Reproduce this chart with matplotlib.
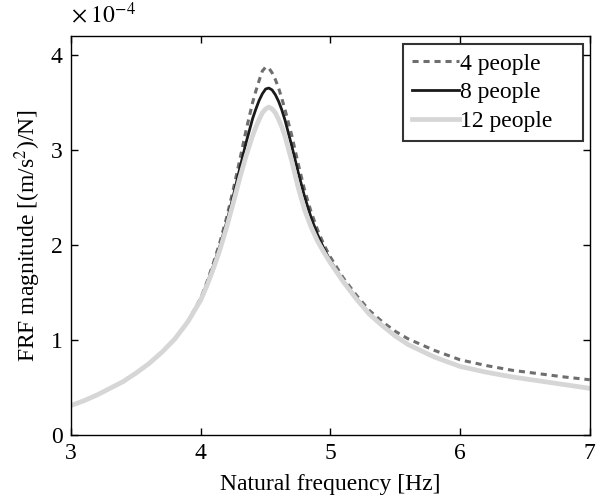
import numpy as np
import matplotlib
matplotlib.use('Agg')
import matplotlib.pyplot as plt

plt.rcParams['font.family'] = ['Liberation Serif', 'DejaVu Serif']
plt.rcParams['mathtext.fontset'] = 'stix'

# 频率点 [Hz]
freq = [3.0, 3.1, 3.2, 3.3, 3.4, 3.5, 3.6, 3.7, 3.8, 3.9,
        4.0, 4.05, 4.1, 4.15, 4.2, 4.25, 4.3, 4.35, 4.4,
        4.425, 4.45, 4.475, 4.5, 4.525, 4.55, 4.575, 4.6, 4.625, 4.65,
        4.7, 4.75, 4.8, 4.85, 4.9, 4.95, 5.0,
        5.1, 5.2, 5.3, 5.4, 5.5, 5.6,
        5.8, 6.0, 6.2, 6.4, 6.6, 6.8, 7.0]

# FRF 幅值 (x 1e-4)
frf_4 = [0.31, 0.36, 0.42, 0.49, 0.56, 0.65, 0.75, 0.87, 1.01, 1.19,
         1.44, 1.62, 1.82, 2.04, 2.29, 2.58, 2.89, 3.21, 3.50,
         3.62, 3.73, 3.83, 3.87, 3.86, 3.81, 3.74, 3.65, 3.54, 3.42,
         3.16, 2.86, 2.58, 2.35, 2.16, 2.00, 1.87,
         1.65, 1.47, 1.31, 1.19, 1.09, 1.01,
         0.89, 0.79, 0.73, 0.68, 0.645, 0.61, 0.58]

frf_8 = [0.31, 0.36, 0.42, 0.49, 0.56, 0.65, 0.75, 0.87, 1.01, 1.19,
         1.43, 1.60, 1.79, 2.00, 2.24, 2.51, 2.80, 3.08, 3.33,
         3.43, 3.52, 3.59, 3.64, 3.65, 3.63, 3.58, 3.51, 3.42, 3.31,
         3.05, 2.77, 2.51, 2.29, 2.11, 1.96, 1.83,
         1.62, 1.44, 1.28, 1.15, 1.04, 0.95,
         0.82, 0.72, 0.66, 0.61, 0.57, 0.53, 0.49]

frf_12 = [0.31, 0.36, 0.42, 0.49, 0.56, 0.65, 0.75, 0.87, 1.01, 1.19,
          1.42, 1.58, 1.76, 1.96, 2.19, 2.44, 2.70, 2.94, 3.15,
          3.24, 3.32, 3.39, 3.43, 3.45, 3.43, 3.39, 3.32, 3.24, 3.14,
          2.89, 2.61, 2.37, 2.19, 2.04, 1.92, 1.81,
          1.61, 1.43, 1.27, 1.15, 1.04, 0.95,
          0.82, 0.72, 0.66, 0.61, 0.57, 0.53, 0.49]

labels = ['4 people', '8 people', '12 people']
xticks = [3, 4, 5, 6, 7]
yticks = [0, 1, 2, 3, 4]

FS = 17

f = np.array(freq)
fig = plt.figure(figsize=(6.03, 4.97), dpi=100)
ax = fig.add_axes([0.118, 0.125, 0.860, 0.803])

# 数值按 1e-4 为单位画，指数单独标在左上角
ax.plot(f, frf_4, color='#6e6e6e', lw=2.2, ls=(0, (2.0, 1.6)), label=labels[0])
ax.plot(f, frf_8, color='#1a1a1a', lw=2.0, label=labels[1])
ax.plot(f, frf_12, color='#d6d6d6', lw=3.4, label=labels[2])

ax.set_xlim(3, 7)
ax.set_ylim(0, 4.2)
ax.set_xticks(xticks)
ax.set_yticks(yticks)
ax.set_xticklabels([str(t) for t in xticks])
ax.set_yticklabels([str(t) for t in yticks])
ax.text(0.0, 1.02, r'$\times\;10^{-4}$', transform=ax.transAxes,
        fontsize=FS, ha='left', va='bottom')

ax.tick_params(direction='in', top=True, right=True, length=5, width=1,
               labelsize=FS, pad=6)
for sp in ax.spines.values():
    sp.set_linewidth(1.0)

ax.set_xlabel('Natural frequency [Hz]', fontsize=FS, labelpad=7)
ax.set_ylabel('FRF magnitude [(m/s$^2$)/N]', fontsize=FS, labelpad=6)

# MATLAB 风格图例：右侧留白较多，用 expand 撑宽
leg = ax.legend(loc='upper left', bbox_to_anchor=(0.640, 0.0, 0.347, 0.980),
                mode='expand', fontsize=FS, frameon=True, fancybox=False,
                edgecolor='black', handlelength=1.95, handletextpad=0.05,
                labelspacing=0.3, borderaxespad=0.0, borderpad=0.4)
leg.get_frame().set_linewidth(1.5)

plt.savefig('out.png', dpi=100)
